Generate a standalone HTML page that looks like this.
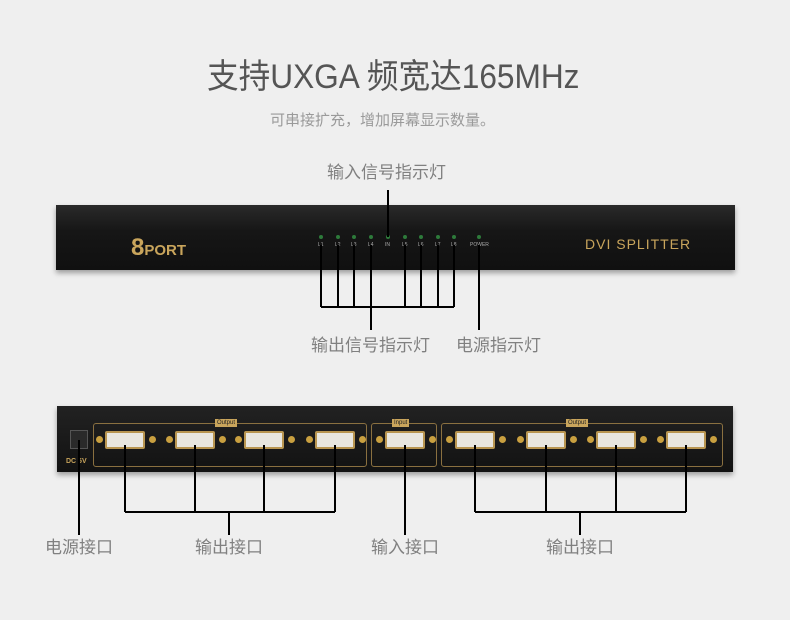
<!DOCTYPE html>
<html><head><meta charset="utf-8"><style>
body{margin:0;width:790px;height:620px;background:#efefef;position:relative;overflow:hidden;font-family:"Liberation Sans","Noto Sans CJK SC",sans-serif}
.t{position:absolute;white-space:nowrap;color:#808080;font-size:17px;line-height:1}
.dev{position:absolute;background:linear-gradient(#2a2a2a,#161616 40%,#101010);box-shadow:0 3px 5px rgba(0,0,0,.35)}
.gold{color:#c9a55c;position:absolute;white-space:nowrap;font-weight:bold}
.box{position:absolute;border:1px solid #8a7040;border-radius:3px}
.con{position:absolute;width:36px;height:14px;background:#e8e6df;border:2px solid #b89550;border-radius:2px}
.scr{position:absolute;width:7px;height:7px;border-radius:50%;background:#c9a040}
.led{position:absolute;width:4px;height:4px;border-radius:50%;background:#2d7a3a}
.lab{position:absolute;font-size:5px;color:#aaa}
.tag{position:absolute;font-size:6px;background:#c9a55c;color:#222;padding:0 2px;line-height:8px}
</style></head><body>
<div class="t" style="left:207px;top:60px;font-size:34px;color:#555;transform:scaleX(0.93);transform-origin:0 0">支持UXGA 频宽达165MHz</div>
<div class="t" style="left:270px;top:113px;font-size:15px;color:#9a9a9a">可串接扩充，增加屏幕显示数量。</div>
<div class="t" style="left:327px;top:164px">输入信号指示灯</div>

<div class="dev" style="left:56px;top:205px;width:679px;height:65px"></div>
<div class="gold" style="left:131px;top:234px;font-size:24px">8<span style="font-size:15px">PORT</span></div>
<div class="gold" style="left:585px;top:236px;font-size:14px;letter-spacing:1px;font-weight:normal">DVI SPLITTER</div>

<div class="led" style="left:319px;top:235px"></div><div class="lab" style="left:318px;top:242px">L1</div>
<div class="led" style="left:336px;top:235px"></div><div class="lab" style="left:335px;top:242px">L2</div>
<div class="led" style="left:352px;top:235px"></div><div class="lab" style="left:351px;top:242px">L3</div>
<div class="led" style="left:369px;top:235px"></div><div class="lab" style="left:368px;top:242px">L4</div>
<div class="led" style="left:386px;top:235px"></div><div class="lab" style="left:385px;top:242px">IN</div>
<div class="led" style="left:403px;top:235px"></div><div class="lab" style="left:402px;top:242px">L5</div>
<div class="led" style="left:419px;top:235px"></div><div class="lab" style="left:418px;top:242px">L6</div>
<div class="led" style="left:436px;top:235px"></div><div class="lab" style="left:435px;top:242px">L7</div>
<div class="led" style="left:452px;top:235px"></div><div class="lab" style="left:451px;top:242px">L8</div>
<div class="led" style="left:477px;top:235px"></div><div class="lab" style="left:470px;top:242px">POWER</div>

<div class="t" style="left:311px;top:337px">输出信号指示灯</div>
<div class="t" style="left:456px;top:337px">电源指示灯</div>

<div class="dev" style="left:57px;top:406px;width:676px;height:66px;background:linear-gradient(#222,#121212)"></div>
<div style="position:absolute;left:70px;top:430px;width:16px;height:17px;background:#2a2a2a;border:1px solid #555"></div>
<div class="gold" style="left:66px;top:458px;font-size:7px">DC 5V</div>
<div class="box" style="left:93px;top:423px;width:272px;height:42px"></div>
<div class="box" style="left:371px;top:423px;width:64px;height:42px"></div>
<div class="box" style="left:441px;top:423px;width:280px;height:42px"></div>
<div class="tag" style="left:215px;top:419px">Output</div>
<div class="tag" style="left:392px;top:419px">Input</div>
<div class="tag" style="left:566px;top:419px">Output</div>

<div class="con" style="left:105px;top:431px"></div>
<div class="con" style="left:175px;top:431px"></div>
<div class="con" style="left:244px;top:431px"></div>
<div class="con" style="left:315px;top:431px"></div>
<div class="con" style="left:385px;top:431px"></div>
<div class="con" style="left:455px;top:431px"></div>
<div class="con" style="left:526px;top:431px"></div>
<div class="con" style="left:596px;top:431px"></div>
<div class="con" style="left:666px;top:431px"></div>
<div class="scr" style="left:96px;top:436px"></div><div class="scr" style="left:149px;top:436px"></div>
<div class="scr" style="left:166px;top:436px"></div><div class="scr" style="left:219px;top:436px"></div>
<div class="scr" style="left:235px;top:436px"></div><div class="scr" style="left:288px;top:436px"></div>
<div class="scr" style="left:306px;top:436px"></div><div class="scr" style="left:359px;top:436px"></div>
<div class="scr" style="left:376px;top:436px"></div><div class="scr" style="left:429px;top:436px"></div>
<div class="scr" style="left:446px;top:436px"></div><div class="scr" style="left:499px;top:436px"></div>
<div class="scr" style="left:517px;top:436px"></div><div class="scr" style="left:570px;top:436px"></div>
<div class="scr" style="left:587px;top:436px"></div><div class="scr" style="left:640px;top:436px"></div>
<div class="scr" style="left:657px;top:436px"></div><div class="scr" style="left:710px;top:436px"></div>

<svg style="position:absolute;left:0;top:0" width="790" height="620">
<g stroke="#000" stroke-width="2" fill="none">
<path d="M388 190V237"/>
<path d="M321 245V307M338 245V307M354 245V307M371 245V330M405 245V307M421 245V307M438 245V307M454 245V307M321 307H454"/>
<path d="M479 245V330"/>
<path d="M79 440V535"/>
<path d="M125 445V512M195 445V512M264 445V512M335 445V512M125 512H335M229 512V535"/>
<path d="M405 445V535"/>
<path d="M475 445V512M546 445V512M616 445V512M686 445V512M475 512H686M580 512V535"/>
</g></svg>

<div class="t" style="left:45px;top:539px">电源接口</div>
<div class="t" style="left:195px;top:539px">输出接口</div>
<div class="t" style="left:371px;top:539px">输入接口</div>
<div class="t" style="left:546px;top:539px">输出接口</div>
</body></html>
